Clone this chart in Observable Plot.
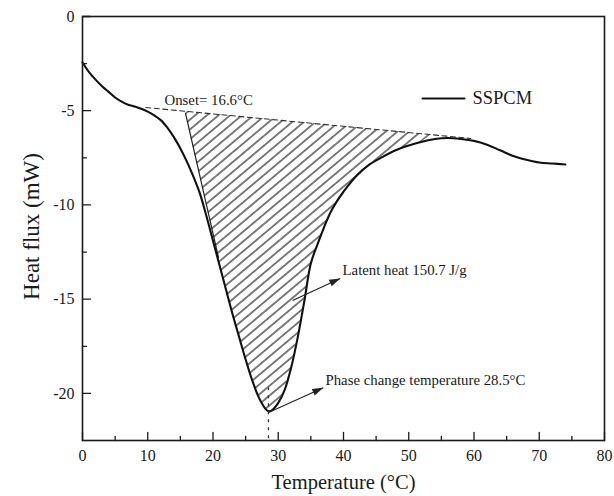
<!DOCTYPE html>
<html>
<head>
<meta charset="utf-8">
<script src="https://cdn.jsdelivr.net/npm/d3@7"></script>
<script src="https://cdn.jsdelivr.net/npm/@observablehq/plot@0.6"></script>
<style>
  html, body { margin: 0; padding: 0; background: #fff; }
  svg { display: block; }
</style>
</head>
<body>
<div id="chart"></div>
<script>
// ---- data ----
const curveT = [0,1,2,3,4,5,6,7,8,9,10,11,12,13,14,15,16,17,18,19,20,21,22,23,24,25,26,27,28,28.5,29,30,31,32,33,34,35,36,37,38,39,40,42,44,46,48,50,52,54,56,58,60,62,64,66,68,70,72,74];
const curveQ = [-2.44,-2.95,-3.35,-3.7,-4.0,-4.3,-4.52,-4.68,-4.78,-4.9,-5.05,-5.25,-5.5,-5.9,-6.4,-7.0,-7.7,-8.5,-9.4,-10.6,-11.9,-13.2,-14.5,-15.8,-17.0,-18.2,-19.3,-20.2,-20.8,-20.95,-20.9,-20.5,-19.8,-18.6,-17.0,-15.1,-13.1,-12.1,-11.2,-10.4,-9.8,-9.3,-8.45,-7.85,-7.45,-7.1,-6.85,-6.65,-6.5,-6.45,-6.5,-6.6,-6.8,-7.1,-7.4,-7.6,-7.75,-7.8,-7.85];

const baseT = [9.7, 59.5];
const baseQ = [-4.83, -6.47];

const tangentT = [15.8, 20.85];
const tangentQ = [-5.15, -12.8];

const hatchT      = [15.8, 17, 18, 19, 20, 21, 22, 23, 24, 25, 26, 27, 28, 28.5, 29, 30, 31, 32, 33, 34, 35, 36, 37, 38, 39, 40, 42, 44, 46, 48, 50, 52, 53.5];
const hatchTop    = [-5.03,-5.07,-5.10,-5.14,-5.17,-5.20,-5.23,-5.27,-5.30,-5.33,-5.37,-5.40,-5.43,-5.45,-5.46,-5.50,-5.53,-5.56,-5.60,-5.63,-5.66,-5.70,-5.73,-5.76,-5.79,-5.83,-5.89,-5.96,-6.02,-6.09,-6.16,-6.22,-6.27];
const hatchBottom = [-5.15,-6.97,-8.48,-10.0,-11.5,-13.1,-14.5,-15.8,-17.0,-18.2,-19.3,-20.2,-20.8,-20.95,-20.9,-20.5,-19.8,-18.6,-17.0,-15.1,-13.1,-12.1,-11.2,-10.4,-9.8,-9.3,-8.45,-7.85,-7.45,-7.1,-6.85,-6.65,-6.3];

const phaseT = 28.5;
const phaseMarkQ = [-19.7, -22.5];

const annText = ["Onset= 16.6°C", "Latent heat 150.7 J/g", "Phase change temperature 28.5°C"];
const annT    = [12.57, 39.85, 37.24];
const annQ    = [-4.46, -13.47, -19.31];

const arrowFromT = [32.2, 28.6];
const arrowFromQ = [-15.07, -21.0];
const arrowToT   = [39.5, 36.9];
const arrowToQ   = [-13.9, -19.7];

const xMajor = [0,10,20,30,40,50,60,70,80];
const xMinor = [5,15,25,35,45,55,65,75];
const yMajor = [0,-5,-10,-15,-20];
const yMinor = [-2.5,-7.5,-12.5,-17.5];
const xDomain = [0, 80];
const yDomain = [-22.5, 0];

const seriesName = "SSPCM";
const xTitle = "Temperature (°C)";
const yTitle = "Heat flux (mW)";

// ---- tables built from the arrays ----
const curve = curveT.map((t, i) => ({t, q: curveQ[i]}));
const baseline = baseT.map((t, i) => ({t, q: baseQ[i]}));
const tangent = tangentT.map((t, i) => ({t, q: tangentQ[i]}));
const hatch = hatchT.map((t, i) => ({t, top: hatchTop[i], bottom: hatchBottom[i]}));
const ann = annText.map((text, i) => ({text, t: annT[i], q: annQ[i]}));
const arrows = arrowFromT.map((t, i) => ({x1: t, y1: arrowFromQ[i], x2: arrowToT[i], y2: arrowToQ[i]}));

const lineShape = {draw(ctx, l) { ctx.moveTo(0, 0); ctx.lineTo(0, -l); }};
const headShape = {draw(ctx, l) { ctx.moveTo(0, 0); ctx.lineTo(-3.6, l); ctx.lineTo(3.6, l); ctx.closePath(); }};
const ink = "#1a1a1a";

const chart = Plot.plot({
  width: 614,
  height: 496,
  marginLeft: 82,
  marginRight: 10,
  marginTop: 16,
  marginBottom: 56,
  style: {fontFamily: "'Liberation Serif', 'Times New Roman', serif", color: ink, background: "#fff"},
  x: {domain: xDomain},
  y: {domain: yDomain},
  marks: [
    Plot.areaY(hatch, {x: "t", y1: "top", y2: "bottom", fill: "url(#hatch)", stroke: "none"}),
    Plot.line(baseline, {x: "t", y: "q", stroke: "#333", strokeWidth: 1.1, strokeDasharray: "5,3.5"}),
    Plot.line(tangent, {x: "t", y: "q", stroke: "#222", strokeWidth: 1.2}),
    Plot.ruleX([phaseT], {y1: phaseMarkQ[0], y2: phaseMarkQ[1], stroke: "#333", strokeWidth: 1.3, strokeDasharray: "3,5"}),
    Plot.line(curve, {x: "t", y: "q", curve: "catmull-rom", stroke: "#111", strokeWidth: 2.1}),
    Plot.link(arrows, {x1: "x1", y1: "y1", x2: "x2", y2: "y2", stroke: "#222", strokeWidth: 1.2}),
    Plot.vector(arrows, {x: "x2", y: "y2", length: 11, rotate: 65.7, anchor: "start", shape: headShape, fill: "#222", stroke: "none"}),
    Plot.text(ann, {x: "t", y: "q", text: "text", textAnchor: "start", lineAnchor: "middle", fontSize: 14.8, fill: ink}),
    // ticks (inward)
    Plot.vector(xMajor, {x: d => d, y: yDomain[0], length: 8, rotate: 0, anchor: "start", shape: lineShape, stroke: ink, strokeWidth: 1.3}),
    Plot.vector(xMinor, {x: d => d, y: yDomain[0], length: 4, rotate: 0, anchor: "start", shape: lineShape, stroke: ink, strokeWidth: 1.3}),
    Plot.vector(yMajor, {y: d => d, x: xDomain[0], length: 8, rotate: 90, anchor: "start", shape: lineShape, stroke: ink, strokeWidth: 1.3}),
    Plot.vector(yMinor, {y: d => d, x: xDomain[0], length: 4, rotate: 90, anchor: "start", shape: lineShape, stroke: ink, strokeWidth: 1.3}),
    Plot.axisX(xMajor, {tickSize: 0, tickPadding: 9, tickFormat: d => String(d), fontSize: 16, label: null, fill: ink}),
    Plot.axisY(yMajor, {tickSize: 0, tickPadding: 8, tickFormat: d => String(d), fontSize: 16, label: null, fill: ink}),
    Plot.frame({stroke: ink, strokeWidth: 1.6}),
    // axis titles
    Plot.text([xTitle], {frameAnchor: "bottom", dy: 42, textAnchor: "middle", lineAnchor: "middle", fontSize: 20.5, fill: ink}),
    Plot.text([yTitle], {frameAnchor: "left", dx: -51, dy: -2, rotate: -90, textAnchor: "middle", lineAnchor: "middle", fontSize: 23, fill: ink}),
    // legend
    Plot.vector([seriesName], {frameAnchor: "top-right", dx: -182, dy: 82, length: 42, rotate: 90, anchor: "start", shape: lineShape, stroke: "#111", strokeWidth: 2}),
    Plot.text([seriesName], {frameAnchor: "top-right", dx: -132, dy: 82, textAnchor: "start", lineAnchor: "middle", fontSize: 18.5, fill: ink})
  ]
});

// hatch pattern definition
const ns = "http://www.w3.org/2000/svg";
const defs = document.createElementNS(ns, "defs");
defs.innerHTML = '<pattern id="hatch" patternUnits="userSpaceOnUse" width="7.5" height="10" patternTransform="rotate(50)"><line x1="3.75" y1="-1" x2="3.75" y2="11" stroke="#1e1e1e" stroke-width="1.15"/></pattern>';
chart.insertBefore(defs, chart.firstChild);

document.getElementById("chart").appendChild(chart);
</script>
</body>
</html>
